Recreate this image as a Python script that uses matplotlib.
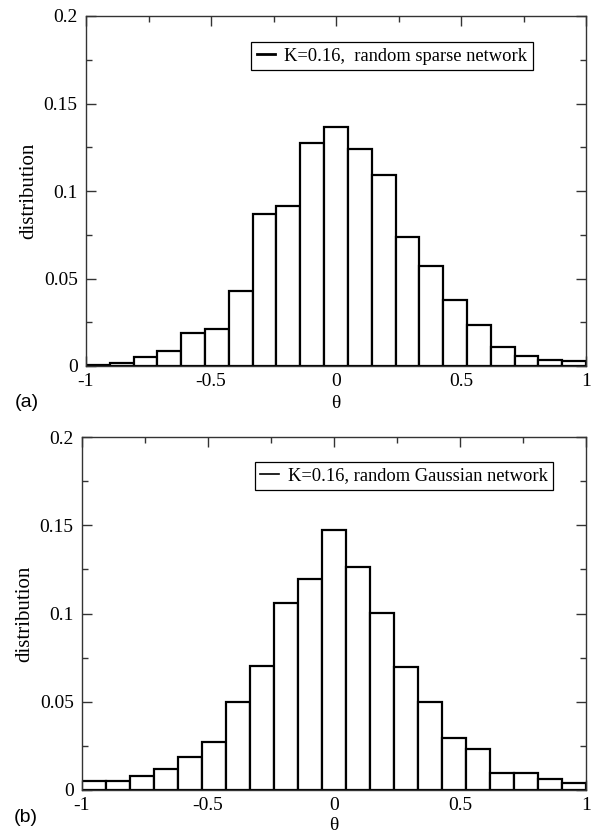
import numpy as np
import matplotlib.pyplot as plt
from matplotlib.lines import Line2D
from matplotlib.ticker import MultipleLocator

# 21 equal bins on [-1, 1]
bin_edges = np.linspace(-1, 1, 22)

sparse_dist = [0.0008, 0.0019, 0.0053, 0.0086, 0.0189, 0.0212, 0.0427, 0.0866,
               0.0917, 0.1277, 0.1363, 0.1239, 0.1089, 0.0738, 0.0570, 0.0379,
               0.0233, 0.0107, 0.0057, 0.0036, 0.0031]
gauss_dist = [0.0053, 0.0053, 0.0079, 0.0119, 0.0185, 0.0270, 0.0501, 0.0705,
              0.1059, 0.1198, 0.1474, 0.1261, 0.1002, 0.0699, 0.0501, 0.0293,
              0.0231, 0.0095, 0.0095, 0.0062, 0.0038]

labels = ["K=0.16,  random sparse network", "K=0.16, random Gaussian network"]
panel_tags = ["(a)", "(b)"]

plt.rcParams["font.family"] = ["Liberation Serif", "DejaVu Serif"]

W, H = 595, 836
fig = plt.figure(figsize=(W / 100, H / 100), dpi=100)

# axes boxes in pixels: left, top, right, bottom
boxes = [(86, 16, 586, 366), (82, 437, 586, 790)]
legend_anchor = [(0.894, 0.925), (0.935, 0.930)]
xlabel_pad = [4, 2]


def draw_panel(ax, values, label, handle_lw, anchor, xpad):
    widths = np.diff(bin_edges)
    ax.bar(bin_edges[:-1], values, width=widths, align="edge",
           color="white", edgecolor="black", linewidth=1.6, zorder=2)
    ax.set_xlim(-1, 1)
    ax.set_ylim(0, 0.2)
    ax.xaxis.set_minor_locator(MultipleLocator(0.25))
    ax.yaxis.set_minor_locator(MultipleLocator(0.025))
    ax.set_xticks([-1, -0.5, 0, 0.5, 1])
    ax.set_xticklabels(["-1", "-0.5", "0", "0.5", "1"])
    ax.set_yticks([0, 0.05, 0.1, 0.15, 0.2])
    ax.set_yticklabels(["0", "0.05", "0.1", "0.15", "0.2"])
    ax.tick_params(which="both", direction="in", top=True, right=True,
                   labelsize=14, color="#333333")
    ax.tick_params(which="major", length=7, width=1)
    ax.tick_params(which="minor", length=4, width=1)
    ax.tick_params(axis="y", pad=6)
    ax.tick_params(axis="x", pad=5)
    for s in ax.spines.values():
        s.set_linewidth(1.0)
        s.set_color("#333333")
    ax.set_ylabel("distribution", fontsize=15, labelpad=4)
    ax.set_xlabel("θ", fontsize=14, labelpad=xpad)
    handle = Line2D([], [], color="black", linewidth=handle_lw)
    leg = ax.legend([handle], [label], loc="upper right",
                    bbox_to_anchor=anchor, borderaxespad=0, fontsize=13.3,
                    handlelength=1.0, handletextpad=0.5, borderpad=0.3,
                    fancybox=False, framealpha=1, edgecolor="black")
    leg.get_frame().set_linewidth(0.9)


for i, (l, t, r, b) in enumerate(boxes):
    ax = fig.add_axes([l / W, 1 - b / H, (r - l) / W, (b - t) / H])
    values = sparse_dist if i == 0 else gauss_dist
    draw_panel(ax, values, labels[i], 2.0 if i == 0 else 1.2,
               legend_anchor[i], xlabel_pad[i])

fig.text(27 / W, 1 - 403 / H, panel_tags[0], fontsize=14,
         family="Liberation Sans", va="center", ha="center")
fig.text(26 / W, 1 - 818 / H, panel_tags[1], fontsize=14,
         family="Liberation Sans", va="center", ha="center")

fig.savefig("out.png", dpi=100)
